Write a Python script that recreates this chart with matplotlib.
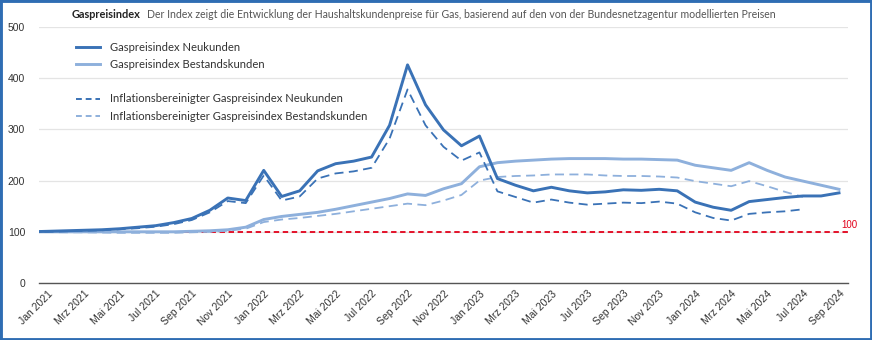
import numpy as np
import matplotlib
matplotlib.use("Agg")
import matplotlib.pyplot as plt
from matplotlib.lines import Line2D
from matplotlib.patches import Rectangle

# months from Dez 2020 (base) to Sep 2024
month_names = ["Jan", "Feb", "Mrz", "Apr", "Mai", "Jun",
               "Jul", "Aug", "Sep", "Okt", "Nov", "Dez"]
months = ["Dez 2020"] + ["%s %d" % (m, y) for y in (2021, 2022, 2023, 2024)
                         for m in month_names][:45]

neu = [100,
       101, 102, 103, 104, 106, 109, 112, 118, 126, 142, 166, 161,
       220, 169, 180, 219, 233, 238, 246, 308, 426, 348, 299, 268,
       287, 204, 191, 180, 187, 180, 176, 178, 182, 181, 183, 180,
       158, 148, 142, 159, 163, 167, 170, 170, 176]
bestand = [100,
           100, 100, 100, 100, 100, 100, 100, 100, 101, 102, 104, 109,
           124, 130, 134, 138, 144, 151, 158, 165, 174, 171, 184, 194,
           227, 235, 238, 240, 242, 243, 243, 243, 242, 242, 241, 240,
           230, 225, 220, 235, 220, 207, 199, 191, 183]
neu_real = [100,
            100, 101, 102, 103, 105, 107, 110, 115, 123, 138, 160, 156,
            210, 161, 169, 204, 214, 218, 225, 282, 378, 308, 266, 239,
            255, 179, 168, 157, 163, 157, 153, 155, 157, 156, 159, 155,
            138, 127, 122, 135, 138, 140, 144]
bestand_real = [100,
                99.5, 99, 99, 98.5, 98, 98, 98, 98, 99, 100, 102, 106,
                119, 124, 127, 131, 135, 140, 145, 150, 155, 152, 161, 172,
                200, 207, 209, 210, 212, 212, 212, 210, 209, 209, 208, 206,
                199, 194, 189, 199, 189, 178, 168]
referenz = 100

dark = "#3a72b6"
light = "#8eb0dc"
red = "#e2001a"

fig = plt.figure(figsize=(8.72, 3.4), dpi=100)
ax = fig.add_axes([39 / 872, 57 / 340, (848 - 39) / 872, (283 - 27) / 340])

x = np.arange(len(months)) - 1
ax.plot(x[:len(bestand)], bestand, color=light, lw=2.1, zorder=3)
ax.plot(x[:len(neu)], neu, color=dark, lw=2.1, zorder=4)
ax.plot(x[:len(bestand_real)], bestand_real, color=light, lw=1.3,
        ls=(0, (5, 3)), zorder=3)
ax.plot(x[:len(neu_real)], neu_real, color=dark, lw=1.3,
        ls=(0, (5, 3)), zorder=4)
ax.axhline(referenz, color=red, lw=1.3, ls=(0, (3, 2)), zorder=2)
ax.text(44.6, referenz + 3, "100", color=red, fontsize=7,
        family="Liberation Sans", ha="center", va="bottom")

ax.set_xlim(-0.5, 44.5)
ax.set_ylim(0, 500)
ax.set_yticks([0, 100, 200, 300, 400, 500])
ax.grid(axis="y", color="#e4e4e4", lw=0.9, zorder=0)
ax.set_axisbelow(True)
for s in ("top", "right", "left"):
    ax.spines[s].set_visible(False)
ax.spines["bottom"].set_color("#555555")
ax.spines["bottom"].set_linewidth(1.0)
ax.tick_params(axis="y", length=0, pad=10, labelsize=7.5, labelcolor="#333333")
ax.tick_params(axis="x", length=0, pad=4, labelsize=7.5, labelcolor="#333333")
for lab in ax.get_yticklabels():
    lab.set_family("Liberation Sans")

xt = list(range(0, 45, 2))
ax.set_xticks(xt)
ax.set_xticklabels([months[i + 1] for i in xt], rotation=45, ha="right",
                   va="top", rotation_mode="anchor", family="Liberation Sans")

handles = [Line2D([], [], color=dark, lw=2.1),
           Line2D([], [], color=light, lw=2.1),
           Line2D([], [], color="none"),
           Line2D([], [], color=dark, lw=1.4, ls=(0, (3, 2))),
           Line2D([], [], color=light, lw=1.4, ls=(0, (3, 2)))]
labels = ["Gaspreisindex Neukunden", "Gaspreisindex Bestandskunden", "",
          "Inflationsbereinigter Gaspreisindex Neukunden",
          "Inflationsbereinigter Gaspreisindex Bestandskunden"]
leg = ax.legend(handles, labels, loc="upper left",
                bbox_to_anchor=((73 - 39) / 809, 0.955), borderaxespad=0.3,
                borderpad=0.0, frameon=False, handlelength=2.1,
                handletextpad=0.9, labelspacing=0.55,
                prop={"family": "Lato", "size": 8.1})
for t in leg.get_texts():
    t.set_color("#333333")

title = fig.text(72 / 872, 1 - 15 / 340, "Gaspreisindex", fontsize=7.9,
                 fontweight="bold", family="Lato", color="#222222",
                 va="center")
fig.canvas.draw()
bb = title.get_window_extent()
fig.text((bb.x1 + 6) / 872, 1 - 15 / 340,
         "Der Index zeigt die Entwicklung der Haushaltskundenpreise für Gas, "
         "basierend auf den von der Bundesnetzagentur modellierten Preisen",
         fontsize=7.6, family="Lato", color="#555555", va="center")

fig.patches.append(Rectangle((0, 0), 1, 1, transform=fig.transFigure,
                             fill=False, edgecolor="#2f6db3", lw=3.5))

fig.savefig("out.png", dpi=100)
